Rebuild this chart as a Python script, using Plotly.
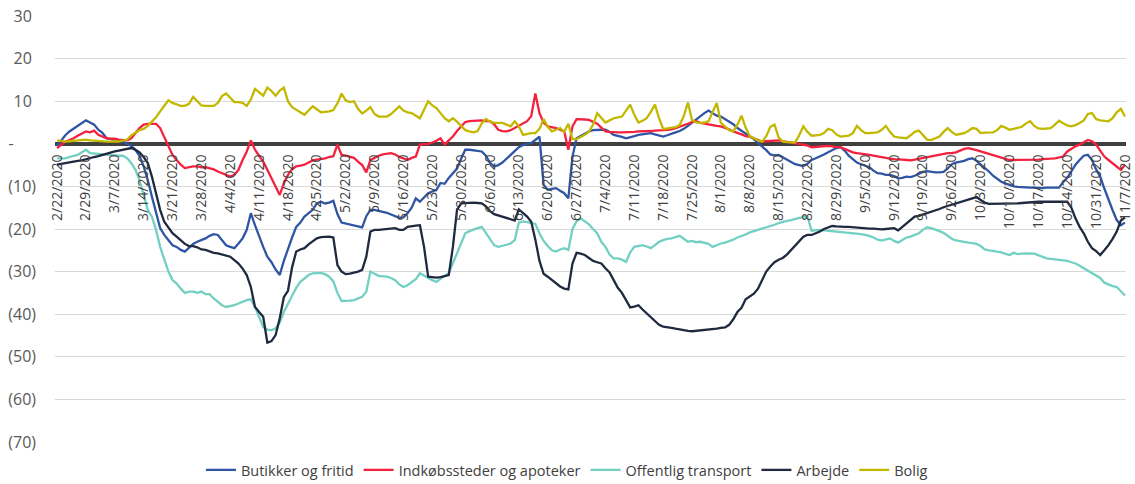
import pandas as pd
import plotly.graph_objects as go

# daily dates 2/22/2020 - 11/7/2020
dates = pd.date_range("2020-02-22", "2020-11-07", freq="D")
labels = [f"{d.month}/{d.day}/{d.year}" for d in dates]

butikker = [
    -0.5, 0.8, 2.0, 2.9, 3.5, 4.2, 4.9,
    5.5, 5.0, 4.5, 3.3, 2.6, 1.3, 1.1,
    0.9, 0.7, 0.5, 0.0, -0.5, -1.4, -2.8,
    -5.3, -8.5, -12.4, -16.3, -19.8, -21.4, -22.6,
    -23.8, -24.2, -24.9, -25.3, -24.5, -23.5, -23.0,
    -22.6, -22.2, -21.6, -21.2, -21.4, -22.6, -23.8,
    -24.2, -24.5, -23.4, -22.2, -20.2, -16.3, -19.1,
    -21.8, -24.2, -26.5, -27.8, -29.5, -30.8, -27.5,
    -24.5, -22.0, -19.5, -18.5, -17.1, -16.4, -15.5,
    -14.0, -13.6, -14.0, -13.8, -13.4, -16.5, -18.5,
    -18.7, -18.9, -19.1, -19.3, -19.6, -17.0, -15.5,
    -15.5, -15.7, -15.9, -16.2, -16.6, -17.0, -17.4,
    -17.3, -16.3, -15.0, -12.8, -13.6, -12.5, -11.6,
    -11.2, -10.8, -9.2, -9.4, -8.0, -6.9, -5.8,
    -3.5, -1.4, -1.4, -1.5, -1.6, -1.8, -2.8,
    -4.5, -5.3, -5.0, -4.4, -3.5, -2.6, -1.8,
    -0.8, -0.3, 0.0, 0.2, 0.9, 1.7, -9.6,
    -10.8, -10.6, -10.4, -11.0, -11.6, -12.8, -3.0,
    1.3, 1.9, 2.5, 2.9, 3.2, 3.3, 3.3,
    3.3, 2.8, 2.1, 1.9, 1.6, 1.3, 1.5,
    1.8, 2.1, 2.2, 2.4, 2.5, 2.2, 1.9,
    1.7, 2.0, 2.4, 2.7, 3.0, 3.5, 4.2,
    5.0, 5.6, 6.4, 7.2, 7.8, 7.2, 6.6,
    6.4, 5.8, 5.2, 4.6, 3.7, 3.1, 2.5,
    1.9, 1.1, 0.2, -0.6, -1.5, -2.5, -2.7,
    -2.6, -3.2, -3.8, -4.3, -4.8, -5.0, -5.2,
    -4.7, -3.8, -3.4, -3.0, -2.5, -2.0, -1.5,
    -1.0, -0.8, -1.6, -2.8, -3.5, -4.4, -4.8,
    -5.1, -5.5, -6.3, -6.9, -7.0, -7.3, -7.3,
    -7.6, -8.1, -8.0, -7.7, -7.8, -7.5, -7.0,
    -6.6, -6.4, -6.6, -6.7, -6.7, -6.6, -5.8,
    -4.8, -4.4, -4.2, -4.0, -3.6, -3.4, -4.0,
    -4.8, -5.6, -6.5, -7.5, -8.2, -8.9, -9.3,
    -9.6, -10.0, -10.1, -10.2, -10.2, -10.3, -10.3,
    -10.4, -10.4, -10.3, -10.3, -10.3, -10.3, -9.0,
    -8.0, -6.5, -4.9, -3.8, -2.8, -2.6, -3.8,
    -6.0, -7.7, -10.5, -13.2, -15.6, -17.9, -19.1,
    -18.5,
]

indkob = [
    -1.0, -0.2, 0.5, 0.9, 1.3, 1.9, 2.5,
    2.9, 2.7, 3.1, 2.1, 1.7, 1.3, 1.2,
    1.2, 1.0, 0.9, 0.8, 1.3, 2.5, 3.7,
    4.5, 4.7, 4.7, 4.7, 3.7, 1.7, -0.2,
    -2.6, -3.8, -4.9, -5.7, -5.5, -5.3, -5.3,
    -5.5, -5.5, -5.7, -6.0, -6.5, -6.9, -7.3,
    -7.7, -7.3, -6.1, -3.8, -1.8, 0.8, -1.4,
    -2.8, -4.2, -6.1, -8.0, -10.0, -12.0, -9.3,
    -7.3, -6.0, -5.3, -5.1, -4.9, -4.4, -3.9,
    -3.7, -3.6, -3.4, -3.1, -2.9, -0.2, -2.6,
    -2.8, -3.0, -3.3, -4.2, -5.0, -6.7, -3.8,
    -3.3, -2.8, -2.5, -2.3, -2.2, -2.5, -3.1,
    -3.4, -3.8, -3.3, -3.0, -0.2, -0.1, 0.0,
    0.3, 0.7, 1.3, -0.2, 0.8, 1.7, 3.0,
    4.1, 5.1, 5.3, 5.4, 5.5, 5.5, 5.3,
    5.3, 4.6, 3.3, 3.0, 2.9, 3.2, 3.7,
    4.2, 4.8, 5.3, 6.5, 11.8, 7.2, 5.0,
    4.1, 3.9, 3.7, 3.3, 2.9, -1.4, 4.1,
    5.8, 5.8, 5.7, 5.6, 5.2, 4.7, 3.8,
    2.9, 2.8, 2.7, 2.7, 2.7, 2.7, 2.8,
    2.8, 2.9, 2.9, 3.0, 3.0, 3.1, 3.1,
    3.2, 3.3, 3.4, 3.7, 4.0, 4.3, 4.7,
    5.1, 5.3, 4.9, 4.7, 4.5, 4.4, 4.2,
    4.1, 3.8, 3.4, 2.9, 2.6, 2.2, 1.8,
    1.7, 1.3, 0.9, 0.5, 0.6, 0.7, 0.8,
    0.8, 0.6, 0.4, 0.2, 0.1, 0.0, -0.2,
    -0.4, -0.8, -0.7, -0.6, -0.5, -0.5, -0.6,
    -0.8, -0.8, -1.2, -1.6, -2.0, -2.2, -2.3,
    -2.4, -2.6, -2.8, -3.0, -3.1, -3.3, -3.5,
    -3.6, -3.6, -3.7, -3.8, -3.9, -3.7, -3.5,
    -3.4, -3.2, -3.0, -2.8, -2.6, -2.4, -2.2,
    -2.2, -2.0, -1.6, -1.2, -1.0, -1.2, -1.5,
    -1.8, -2.1, -2.4, -2.7, -2.9, -3.2, -3.5,
    -3.8, -3.8, -3.8, -3.8, -3.8, -3.8, -3.8,
    -3.7, -3.6, -3.6, -3.5, -3.4, -3.2, -3.0,
    -1.8, -1.1, -0.6, -0.2, 0.4, 0.9, 0.6,
    -0.2, -1.6, -3.0, -3.8, -4.5, -5.3, -6.1,
    -4.9,
]

transport = [
    -3.4, -3.4, -3.4, -3.1, -2.8, -2.6, -2.0,
    -1.4, -2.2, -2.3, -2.4, -2.5, -2.6, -2.7,
    -2.8, -2.8, -2.8, -3.4, -4.5, -6.1, -8.5,
    -12.0, -15.5, -17.1, -20.2, -24.2, -27.3, -30.0,
    -32.0, -32.8, -34.0, -35.0, -34.7, -34.7, -35.0,
    -34.7, -35.3, -35.3, -36.3, -37.1, -37.9, -38.3,
    -38.1, -37.9, -37.5, -37.1, -36.7, -36.5, -38.3,
    -40.6, -43.0, -43.6, -43.8, -43.3, -42.0, -39.5,
    -37.5, -35.5, -33.8, -32.4, -31.5, -30.8, -30.4,
    -30.3, -30.3, -30.6, -31.2, -32.3, -35.0, -36.9,
    -36.9, -36.8, -36.7, -36.3, -35.9, -34.7, -30.0,
    -30.5, -31.0, -31.1, -31.2, -31.5, -32.0, -33.0,
    -33.6, -33.2, -32.6, -31.8, -30.4, -31.0, -31.6,
    -32.0, -32.4, -31.6, -31.0, -30.4, -28.1, -25.5,
    -23.2, -21.0, -20.5, -20.1, -19.8, -19.5, -21.0,
    -22.5, -23.8, -24.2, -24.0, -23.7, -23.4, -22.6,
    -18.5, -18.2, -18.4, -18.6, -18.8, -21.0, -22.8,
    -24.0, -25.0, -25.3, -24.8, -24.5, -24.9, -20.0,
    -18.2, -17.5, -18.3, -18.9, -20.0, -21.0, -23.0,
    -24.2, -26.0, -26.9, -26.9, -27.2, -27.7, -25.5,
    -24.2, -24.0, -23.8, -24.1, -24.5, -23.8, -23.0,
    -22.6, -22.3, -22.2, -21.9, -21.6, -22.3, -23.0,
    -22.8, -23.1, -23.0, -23.3, -23.5, -24.2, -23.8,
    -23.4, -23.2, -22.9, -22.5, -22.0, -21.7, -21.3,
    -20.8, -20.5, -20.2, -19.9, -19.7, -19.4, -19.0,
    -18.6, -18.3, -18.1, -17.9, -17.6, -17.4, -17.2,
    -17.1, -20.4, -20.3, -20.2, -20.3, -20.4, -20.5,
    -20.6, -20.7, -20.8, -20.9, -21.0, -21.0, -21.2,
    -21.4, -21.6, -22.0, -22.5, -22.7, -22.4, -22.2,
    -22.8, -23.2, -22.6, -22.0, -21.8, -21.4, -21.0,
    -20.2, -19.6, -19.8, -20.1, -20.5, -20.9, -21.6,
    -22.3, -22.7, -22.9, -23.1, -23.2, -23.3, -23.5,
    -24.0, -24.8, -25.0, -25.1, -25.3, -25.5, -25.8,
    -26.1, -25.6, -25.9, -25.8, -25.7, -25.7, -25.8,
    -26.2, -26.6, -26.9, -27.0, -27.1, -27.3, -27.3,
    -27.5, -27.8, -28.1, -28.6, -29.2, -29.6, -30.3,
    -30.8, -31.5, -32.6, -33.0, -33.4, -33.6, -34.6,
    -35.6,
]

arbejde = [
    -4.9, -4.7, -4.5, -4.4, -4.2, -4.0, -3.9,
    -3.6, -3.4, -3.1, -2.9, -2.6, -2.3, -2.0,
    -1.8, -1.6, -1.4, -1.2, -1.0, -1.4, -2.0,
    -3.1, -4.5, -7.7, -11.6, -15.5, -18.3, -19.8,
    -21.0, -21.8, -22.7, -23.5, -24.0, -24.0, -24.3,
    -24.8, -24.9, -25.3, -25.6, -25.7, -26.0, -26.2,
    -26.5, -27.3, -28.1, -29.3, -30.8, -33.6, -38.3,
    -39.5, -40.6, -46.7, -46.3, -44.9, -41.0, -36.0,
    -34.5, -29.0, -25.3, -24.8, -24.5, -23.6, -22.8,
    -22.2, -21.9, -21.8, -21.8, -22.0, -28.5, -30.0,
    -30.6, -30.5, -30.3, -30.0, -29.6, -26.5, -20.6,
    -20.2, -20.2, -20.1, -20.0, -19.9, -19.8, -20.2,
    -20.2, -19.5, -19.3, -19.2, -19.1, -24.2, -31.2,
    -31.3, -31.4, -31.3, -31.0, -30.8, -24.2, -15.5,
    -14.0, -13.9, -13.8, -13.8, -13.9, -14.0, -14.7,
    -15.8, -16.5, -16.8, -17.1, -17.4, -17.7, -18.0,
    -15.4, -16.2, -17.1, -18.3, -22.5, -27.5, -30.5,
    -31.2, -32.0, -32.8, -33.5, -34.0, -34.2, -28.1,
    -25.6, -25.8, -26.1, -26.8, -27.5, -27.8, -28.1,
    -29.2, -30.2, -32.0, -33.8, -35.0, -36.7, -38.4,
    -38.2, -37.9, -38.9, -39.8, -40.9, -41.6, -42.5,
    -42.9, -43.0, -43.2, -43.4, -43.6, -43.7, -43.9,
    -44.0, -43.9, -43.8, -43.8, -43.7, -43.6, -43.4,
    -43.2, -43.1, -42.5, -41.2, -39.5, -38.5, -36.5,
    -35.8, -35.2, -34.0, -32.0, -30.0, -28.8, -27.8,
    -27.2, -26.8, -26.0, -24.9, -23.8, -22.8, -21.8,
    -21.4, -21.4, -21.0, -20.6, -20.0, -19.6, -19.3,
    -19.4, -19.5, -19.5, -19.5, -19.6, -19.6, -19.7,
    -19.8, -19.9, -19.9, -20.0, -20.1, -20.0, -19.9,
    -19.8, -20.3, -19.5, -18.6, -17.8, -17.1, -16.9,
    -16.6, -16.2, -15.9, -15.6, -15.3, -14.9, -14.6,
    -14.3, -14.0, -13.8, -13.5, -13.2, -12.8, -12.5,
    -13.2, -13.8, -14.1, -14.1, -14.1, -14.1, -14.0,
    -14.0, -14.0, -14.0, -13.9, -13.8, -13.8, -13.7,
    -13.6, -13.6, -13.6, -13.5, -13.5, -13.5, -13.5,
    -13.6, -15.0, -17.5, -19.5, -21.0, -23.0, -24.5,
    -25.2, -26.1, -25.0, -23.8, -22.3, -20.6, -18.0,
    -17.3,
]

bolig = [
    0.8, 0.6, 0.5, 0.6, 0.7, 0.8, 0.9,
    1.0, 0.8, 0.7, 0.6, 0.6, 0.5, 0.5,
    0.6, 0.5, 0.7, 1.0, 2.0, 2.7, 3.2,
    3.5, 4.2, 5.2, 6.2, 7.6, 9.0, 10.2,
    9.6, 9.2, 8.9, 8.9, 9.4, 11.0, 10.0,
    9.0, 8.9, 8.9, 8.9, 9.6, 11.2, 11.8,
    10.8, 9.8, 9.8, 9.6, 8.9, 10.4, 12.9,
    12.2, 11.3, 13.2, 12.4, 11.3, 12.5, 13.2,
    10.0, 8.6, 8.0, 7.5, 6.8, 7.8, 8.8,
    8.1, 7.4, 7.5, 7.6, 7.9, 9.5, 11.8,
    10.2, 9.8, 10.0, 8.2, 7.1, 7.8, 8.6,
    7.0, 6.4, 6.4, 6.4, 7.0, 7.8, 8.8,
    7.8, 7.4, 7.2, 6.5, 6.0, 8.0, 10.0,
    9.0, 8.4, 7.2, 6.0, 5.3, 6.0, 5.2,
    4.1, 3.2, 2.9, 2.7, 3.0, 4.8, 5.8,
    5.2, 4.9, 4.9, 4.9, 4.5, 4.1, 5.3,
    4.1, 2.1, 2.3, 2.5, 2.5, 3.5, 5.8,
    4.0, 2.9, 3.3, 3.7, 2.8, 4.7, 1.1,
    1.1, 1.6, 2.1, 2.8, 4.5, 7.2, 6.0,
    5.0, 5.5, 6.0, 6.2, 6.4, 7.8, 9.2,
    6.8, 5.0, 5.4, 6.0, 7.5, 9.2, 6.0,
    3.5, 3.6, 3.8, 3.9, 4.4, 6.5, 9.7,
    5.6, 5.0, 4.9, 5.0, 5.3, 7.5, 9.6,
    4.9, 4.0, 3.2, 2.9, 4.5, 6.6, 3.8,
    1.8, 1.3, 0.8, 0.5, 1.8, 4.0, 4.5,
    1.5, 0.5, 0.4, 0.3, 0.3, 2.0, 4.1,
    2.8, 1.9, 2.0, 2.1, 2.5, 3.5, 3.2,
    2.2, 1.7, 1.8, 1.9, 2.5, 4.2, 3.2,
    2.5, 2.5, 2.6, 2.7, 3.3, 4.2, 2.8,
    1.7, 1.5, 1.4, 1.3, 2.0, 2.8, 3.1,
    2.0, 1.0, 0.9, 1.3, 1.7, 2.8, 3.7,
    2.8, 2.1, 2.3, 2.5, 3.0, 3.7, 3.5,
    2.5, 2.6, 2.7, 2.7, 3.2, 4.2, 3.8,
    3.3, 3.5, 3.7, 4.0, 4.8, 5.3, 4.2,
    3.6, 3.5, 3.6, 3.7, 4.5, 5.4, 4.8,
    4.3, 4.1, 4.4, 4.9, 5.5, 7.0, 7.2,
    5.8, 5.5, 5.4, 5.3, 6.0, 7.4, 8.2,
    6.4,
]

series_names = ["Butikker og fritid", "Indkøbssteder og apoteker",
                "Offentlig transport", "Arbejde", "Bolig"]
colors = ["#2f55a4", "#f4213f", "#72d0c2", "#1f2a40", "#c2b800"]

y_ticks = [30, 20, 10, 0, -10, -20, -30, -40, -50, -60, -70]
y_ticktext = ["30\u00a0", "20\u00a0", "10\u00a0", "-\u2007\u2007\u00a0", "(10)", "(20)",
              "(30)", "(40)", "(50)", "(60)", "(70)"]

fig = go.Figure()
for name, vals, col in zip(series_names, [butikker, indkob, transport, arbejde, bolig], colors):
    fig.add_trace(go.Scatter(x=labels, y=vals, mode="lines", name=name,
                             line=dict(color=col, width=2.3)))

fig.update_layout(
    width=1135, height=484,
    margin=dict(l=55, r=9, t=16, b=42),
    paper_bgcolor="white", plot_bgcolor="white",
    font=dict(family="Open Sans", color="#595959"),
    showlegend=True,
    legend=dict(orientation="h", x=0.478, xanchor="center",
                yref="container", y=0.029, yanchor="middle",
                font=dict(size=14.5, color="#404040"), itemwidth=30),
    xaxis=dict(type="category", range=[-0.5, 259.25],
               tickvals=labels[::7], ticktext=labels[::7],
               tickangle=-90, tickfont=dict(size=14, color="#404040"),
               showgrid=False, showline=False, ticks="",
               ticklabelstandoff=7, automargin=False,
               anchor="free", position=0.7),
    yaxis=dict(range=[-70, 30], tickvals=y_ticks, ticktext=y_ticktext,
               tickfont=dict(size=16, color="#595959"),
               showgrid=True, gridcolor="#d9d9d9", gridwidth=1,
               zeroline=True, zerolinecolor="#404040", zerolinewidth=4,
               ticks="", ticklabelstandoff=18, automargin=False),
)

# page body has a default margin; drop it so the figure sits at 0,0
fig.write_html("out.html", config={"displayModeBar": False},
               post_script="document.body.style.margin='0px';")
